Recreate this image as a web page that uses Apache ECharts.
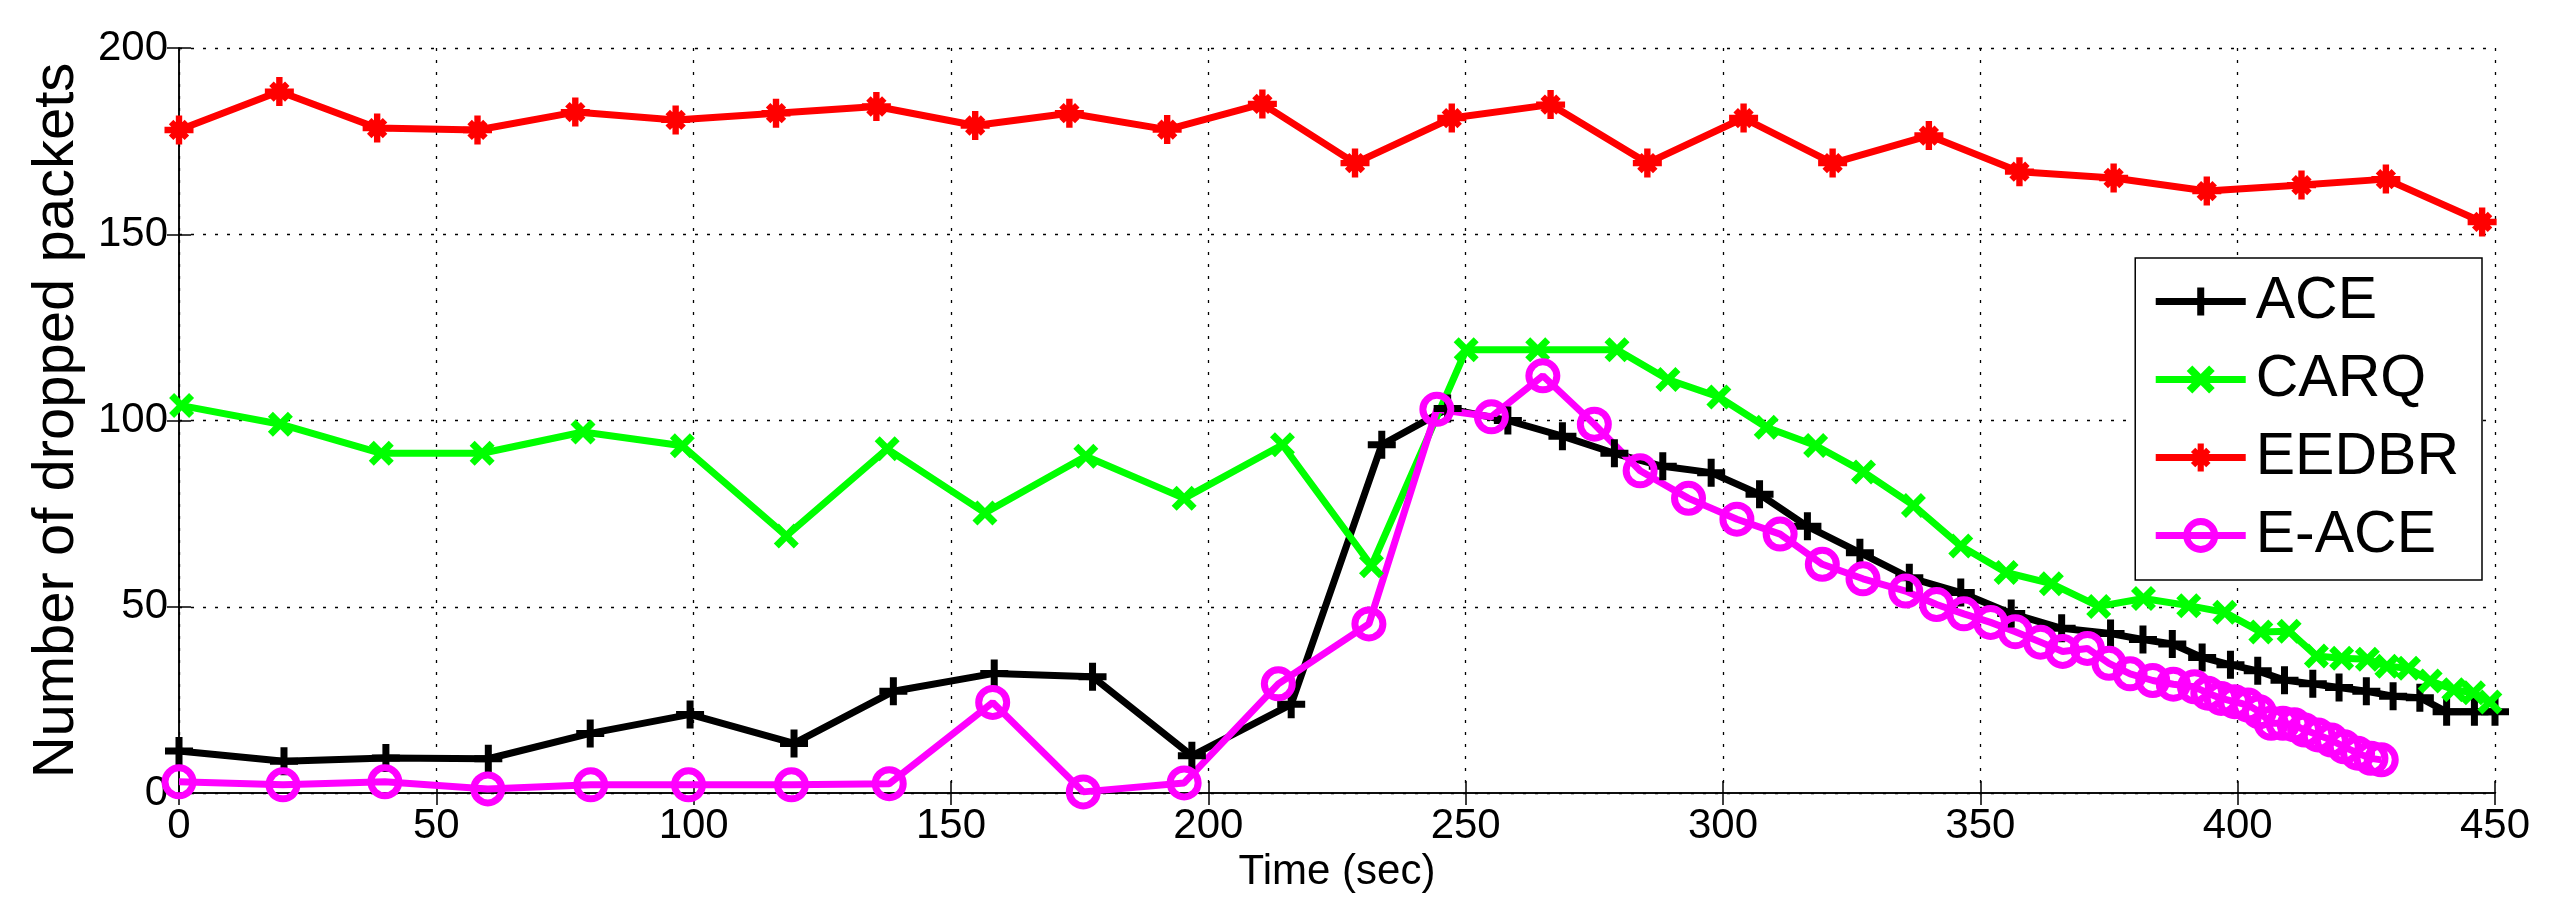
<!DOCTYPE html>
<html>
<head>
<meta charset="utf-8">
<script src="https://cdn.jsdelivr.net/npm/echarts@6/dist/echarts.min.js"></script>
<style>
  html, body { margin: 0; padding: 0; background: #fff; }
  #chart { width: 2553px; height: 917px; }
</style>
</head>
<body>
<div id="chart"></div>
<script>
// values (time in sec, number of dropped packets)
var seriesNames = ['ACE', 'CARQ', 'EEDBR', 'E-ACE'];
var xTicks = [0, 50, 100, 150, 200, 250, 300, 350, 400, 450];
var yTicks = [0, 50, 100, 150, 200];

var aceTime = [0, 20.4, 40.2, 60.1, 79.9, 99.3, 119.5, 138.8, 158.4, 177.5, 196.8, 216.1, 233.7, 246.5,
  258.2, 268.8, 278.9, 288.3, 297.7, 307.1, 316.4, 326.6, 336.2, 346.2, 356, 365.8, 375.3, 381.6,
  387.3, 393.1, 398.6, 403.9, 409.1, 414.6, 419.7, 425, 430.2, 435.4, 440.6, 446, 450];
var aceDropped = [11.3, 8.5, 9.4, 9.2, 16, 21.1, 13.3, 27.3, 32.1, 31.2, 10, 23.8, 93.5, 103.2,
  100, 95.8, 91.2, 87.7, 86, 80.2, 71.6, 64.5, 57.8, 53.8, 48.2, 44.2, 42.8, 41.2,
  40, 36.4, 34.4, 32.8, 30.3, 29.3, 28.3, 27.3, 26, 25.6, 21.8, 21.8, 21.8];

var carqTime = [0.5, 19.7, 39.3, 58.9, 78.5, 97.8, 118, 137.6, 156.6, 176.2, 195.3, 214.4, 231.7,
  250.1, 264, 279.4, 289.3, 299.2, 308.4, 318, 327.3, 337, 346.2, 355, 363.8, 373, 381.7, 390.5,
  397.5, 404.5, 410, 415.3, 420.2, 425.2, 429, 433.2, 437.4, 442, 445.8, 449];
var carqDropped = [104, 99, 91.2, 91.2, 96.9, 93.2, 69, 92.4, 75.2, 90.4, 79.1, 93.5, 61,
  119, 119, 119, 111, 106.3, 98.2, 93.3, 86.2, 77.2, 66.3, 59.2, 56.2, 50.1, 52.2, 50.3,
  48.5, 43.2, 43.4, 36.8, 36.2, 35.9, 34, 33.5, 30.1, 27.7, 26.9, 24.4];

var eedbrTime = [0, 19.5, 38.5, 58, 77, 96.5, 116, 135.5, 154.7, 173, 192, 210.5, 228.5, 247.3,
  266.5, 285.3, 304, 321.3, 340, 357.6, 375.9, 394, 412.4, 428.8, 447.5];
var eedbrDropped = [178, 188.3, 178.5, 178, 182.8, 180.7, 182.5, 184.3, 179.2, 182.5, 178.1, 185, 169.1, 181.2,
  184.8, 169.1, 181.2, 169.1, 176.5, 166.8, 165.1, 161.6, 163.2, 164.8, 153.3];

var eaceTime = [0, 20.2, 40, 60, 80, 99, 119, 138, 158.1, 175.7, 195.3, 213.6, 231.2, 244.4, 255,
  265, 275, 283.9, 293.3, 302.7, 311.1, 319.3, 327.2, 335.5, 341.5, 346.8, 352, 356.8, 361.7,
  366, 370.8, 375, 379.1, 383.5, 387.5, 391.6, 394.2, 396.8, 399.4, 402, 404.2, 406.5, 408.8,
  411, 413, 415.6, 418.2, 420.7, 423.3, 425.9, 427.9];
var eaceDropped = [3, 2.2, 3, 1.1, 2.2, 2.2, 2.2, 2.5, 24.3, 0.3, 2.7, 29.3, 45.4, 103, 101,
  112, 99, 86.5, 79.1, 73.5, 69.5, 61.4, 57.5, 54.2, 50.6, 48.1, 45.8, 43.3, 40.5,
  38, 38.8, 34.8, 32, 30.2, 29.2, 28.5, 26.8, 25.4, 24.5, 23.6, 21.8, 18.7, 18.7,
  18.3, 16.9, 15.6, 14.2, 12.4, 10.7, 9.3, 8.9];

function pairs(xs, ys) {
  return xs.map(function (x, i) { return [x, ys[i]]; });
}

// matlab style markers: + x * o
var plusPath = 'path://M3.75,0H6.25V3.75H10V6.25H6.25V10H3.75V6.25H0V3.75H3.75Z';
var crossPath = 'path://M0,2L2,0L5,3L8,0L10,2L7,5L10,8L8,10L5,7L2,10L0,8L3,5Z';
var starPath = 'path://M3.9,0H6.1V3.9H10V6.1H6.1V10H3.9V6.1H0V3.9H3.9Z' +
  'M1.5,3.05L3.05,1.5L5,3.45L6.95,1.5L8.5,3.05L6.55,5L8.5,6.95L6.95,8.5L5,6.55L3.05,8.5L1.5,6.95L3.45,5Z';

var font = '"Liberation Sans", Arial, Helvetica, sans-serif';

function lineSeries(name, data, color, symbol, size, hollow) {
  return {
    name: name,
    type: 'line',
    data: data,
    symbol: symbol,
    symbolSize: size,
    showAllSymbol: true,
    lineStyle: { color: color, width: 7 },
    itemStyle: hollow
      ? { color: 'rgba(0,0,0,0)', borderColor: color, borderWidth: 7 }
      : { color: color, borderWidth: 0 },
    emphasis: { disabled: true },
    z: 3
  };
}

var legendItems = seriesNames.map(function (n) {
  var item = { name: n };
  if (n === 'E-ACE') {
    item.itemStyle = { color: 'rgba(0,0,0,0)', borderColor: '#ff00ff', borderWidth: 7 };
  } else {
    item.itemStyle = { borderWidth: 0 };
  }
  return item;
});

var chart = echarts.init(document.getElementById('chart'));
var option = {
  animation: false,
  backgroundColor: '#fff',
  textStyle: { fontFamily: font },
  grid: {
    left: 179, right: 58, top: 48, bottom: 124,
    containLabel: false,
    outerBoundsMode: 'none'
  },
  legend: {
    data: legendItems,
    orient: 'vertical',
    right: 71,
    top: 258,
    itemWidth: 90,
    itemHeight: 35,
    itemGap: 19,
    padding: [14, 23, 15, 17],
    backgroundColor: '#fff',
    borderColor: '#000',
    borderWidth: 1.5,
    borderRadius: 0,
    lineStyle: { width: 7 },
    textStyle: { fontSize: 59, lineHeight: 58, color: '#000', fontFamily: font, padding: [0, 0, 0, 5] },
    z: 10
  },
  xAxis: [{
    type: 'value',
    min: xTicks[0],
    max: xTicks[xTicks.length - 1],
    interval: 50,
    name: 'Time (sec)',
    nameLocation: 'middle',
    nameGap: 56,
    nameTextStyle: { fontSize: 42, color: '#000', fontFamily: font },
    axisLine: { show: true, lineStyle: { color: '#000', width: 1.5 } },
    axisTick: { show: true, inside: true, length: 12, lineStyle: { color: '#000', width: 1.5 } },
    axisLabel: { fontSize: 42, color: '#000', margin: 12, fontFamily: font },
    splitLine: { show: true, lineStyle: { color: '#000', width: 1.3, type: [3, 9] } }
  }, {
    type: 'value',
    position: 'top',
    min: xTicks[0],
    max: xTicks[xTicks.length - 1],
    interval: 50,
    axisLine: { show: true, lineStyle: { color: '#000', width: 1.5 } },
    axisTick: { show: true, inside: true, length: 12, lineStyle: { color: '#000', width: 1.5 } },
    axisLabel: { show: false },
    splitLine: { show: false }
  }],
  yAxis: [{
    type: 'value',
    min: yTicks[0],
    max: yTicks[yTicks.length - 1],
    interval: 50,
    name: 'Number of dropped packets',
    nameLocation: 'middle',
    nameGap: 93,
    nameTextStyle: { fontSize: 58, color: '#000', fontFamily: font },
    axisLine: { show: true, lineStyle: { color: '#000', width: 1.5 } },
    axisTick: { show: true, inside: true, length: 12, lineStyle: { color: '#000', width: 1.5 } },
    axisLabel: { fontSize: 42, color: '#000', margin: 11, fontFamily: font },
    splitLine: { show: true, lineStyle: { color: '#000', width: 1.3, type: [3, 9] } }
  }, {
    type: 'value',
    position: 'right',
    min: yTicks[0],
    max: yTicks[yTicks.length - 1],
    interval: 50,
    axisLine: { show: true, lineStyle: { color: '#000', width: 1.5 } },
    axisTick: { show: true, inside: true, length: 12, lineStyle: { color: '#000', width: 1.5 } },
    axisLabel: { show: false },
    splitLine: { show: false }
  }],
  series: [
    lineSeries('ACE', pairs(aceTime, aceDropped), '#000000', plusPath, 28, false),
    lineSeries('CARQ', pairs(carqTime, carqDropped), '#00ff00', crossPath, 25, false),
    lineSeries('EEDBR', pairs(eedbrTime, eedbrDropped), '#ff0000', starPath, 29, false),
    lineSeries('E-ACE', pairs(eaceTime, eaceDropped), '#ff00ff', 'circle', 28, true)
  ]
};
chart.setOption(option);
</script>
</body>
</html>
